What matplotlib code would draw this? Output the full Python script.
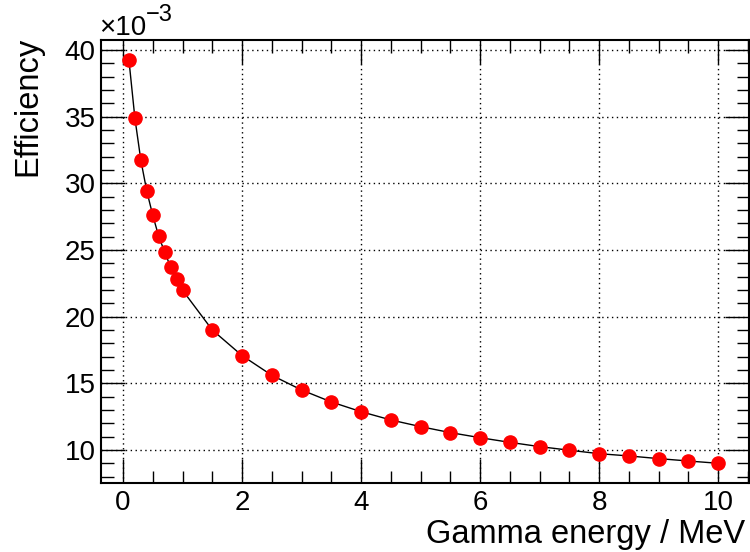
import matplotlib
matplotlib.use("Agg")
import matplotlib.pyplot as plt
from matplotlib.ticker import MultipleLocator, FuncFormatter

plt.rcParams['font.family'] = ['Liberation Sans', 'DejaVu Sans']

# Gamma energy (MeV) and detection efficiency (units of 1e-3)
energy = [0.1, 0.2, 0.3, 0.4, 0.5, 0.6, 0.7, 0.8, 0.9, 1.0,
          1.5, 2.0, 2.5, 3.0, 3.5, 4.0, 4.5, 5.0, 5.5, 6.0,
          6.5, 7.0, 7.5, 8.0, 8.5, 9.0, 9.5, 10.0]
efficiency = [39.22, 34.87, 31.72, 29.40, 27.60, 26.02, 24.84, 23.72, 22.80, 21.98,
              19.00, 17.08, 15.60, 14.50, 13.60, 12.87, 12.25, 11.75, 11.30, 10.92,
              10.57, 10.25, 9.98, 9.72, 9.55, 9.35, 9.17, 9.00]

W, H = 750, 552
fig = plt.figure(figsize=(W / 100, H / 100), dpi=100)
ax = fig.add_axes([101 / W, 69 / H, 648 / W, 443 / H])

ax.plot(energy, efficiency, color='black', lw=1.0, zorder=3)
ax.plot(energy, efficiency, ls='none', marker='o', ms=9.5,
        mfc='#ff0000', mec='#ff0000', zorder=4)

ax.set_xlim(-0.37, 10.52)
ax.set_ylim(7.52, 40.75)

ax.xaxis.set_major_locator(MultipleLocator(2))
ax.xaxis.set_minor_locator(MultipleLocator(0.5))
ax.yaxis.set_major_locator(MultipleLocator(5))
ax.yaxis.set_minor_locator(MultipleLocator(1))
ax.xaxis.set_major_formatter(FuncFormatter(lambda v, p: f"{v:g}"))
ax.yaxis.set_major_formatter(FuncFormatter(lambda v, p: f"{v:g}"))

ax.tick_params(which='both', direction='in', top=True, right=True,
               labelsize=20, width=1.0, colors='black')
ax.tick_params(which='major', length=17)
ax.tick_params(which='minor', length=9)
ax.tick_params(axis='y', which='major', pad=4)
ax.tick_params(axis='x', which='major', pad=5)

ax.grid(which='major', ls=(0, (1, 2.5)), color='black', lw=1.0)

for s in ax.spines.values():
    s.set_linewidth(1.5)

ax.set_xlabel('Gamma energy / MeV', fontsize=23.5, ha='right', x=0.994, labelpad=2)
ax.set_ylabel('Efficiency', fontsize=23.5, ha='right', y=1.007, labelpad=15)

# axis multiplier
fig.text(99 / W, 1 - 35 / H, '\u00d710', fontsize=20, va='baseline', ha='left')
fig.text(146 / W, 1 - 21 / H, '\u22123', fontsize=17, va='baseline', ha='left')

fig.savefig('out.png', dpi=100)
